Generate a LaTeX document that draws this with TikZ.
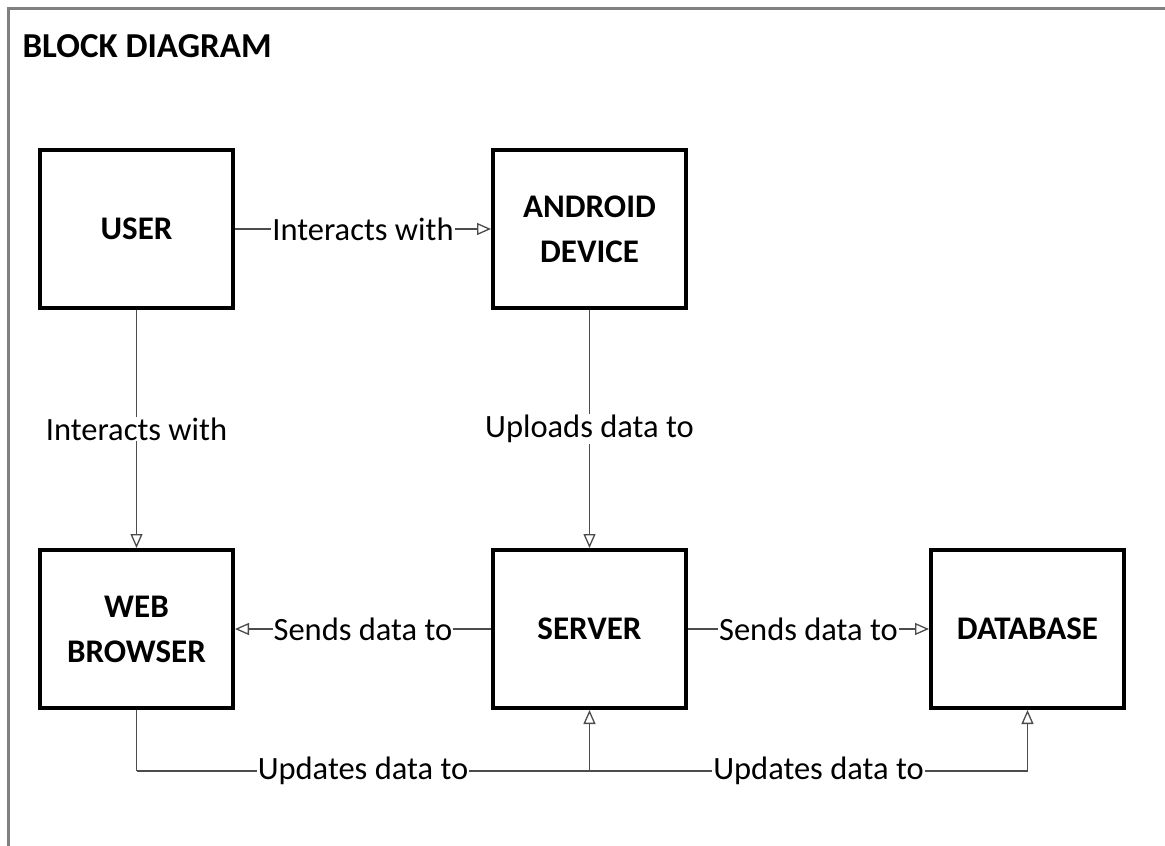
\documentclass[tikz,border=0pt]{standalone}
\usepackage{fontspec}
\setmainfont{Carlito}
\usetikzlibrary{arrows.meta}
\begin{document}
\begin{tikzpicture}[x=1pt,y=-1pt,
  blockbox/.style={draw=black, line width=4pt, minimum width=193pt, minimum height=158pt,
    align=center, font=\bfseries\fontsize{33}{40}\selectfont, inner sep=0pt},
  conn/.style={draw=black!70, line width=1.6pt,
    -{Triangle[open, length=14pt, width=12pt, line width=1.3pt]}},
  plain/.style={draw=black!70, line width=1.6pt},
  lbl/.style={fill=white, inner sep=1pt, font=\fontsize{32.5}{38}\selectfont}]
\useasboundingbox (0,0) rectangle (1165,846);
\fill[white] (0,0) rectangle (1165,846);
\draw[gray, line width=3pt] (8,846) -- (8,8) -- (1165,8);
\node[anchor=base west, font=\bfseries\fontsize{35}{42}\selectfont] (title) at (19,57) {BLOCK DIAGRAM};

\node[blockbox] (user) at (136.5,229) {USER};
\node[blockbox] (android) at (589.5,229) {ANDROID\\[5pt]DEVICE};
\node[blockbox] (web) at (136.5,629) {WEB\\[5pt]BROWSER};
\node[blockbox] (server) at (589.5,629) {SERVER};
\node[blockbox] (db) at (1027.5,629) {DATABASE};

\coordinate (wb) at (136.5,771);
\coordinate (sb) at (589.5,771);
\coordinate (db2) at (1027.5,771);

\draw[conn] (user.east) -- node[lbl] {Interacts with} (android.west);
\draw[conn] (user.south) -- node[lbl] {Interacts with} (web.north);
\draw[conn] (android.south) -- node[lbl] {Uploads data to} (server.north);
\draw[conn] (server.west) -- node[lbl] {Sends data to} (web.east);
\draw[conn] (server.east) -- node[lbl] {Sends data to} (db.west);
\draw[plain] (web.south) -- (wb);
\draw[conn] (wb) -- node[lbl] {Updates data to} (sb) -- (server.south);
\draw[conn] (sb) -- node[lbl, xshift=10pt] {Updates data to} (db2) -- (db.south);
\end{tikzpicture}
\end{document}
